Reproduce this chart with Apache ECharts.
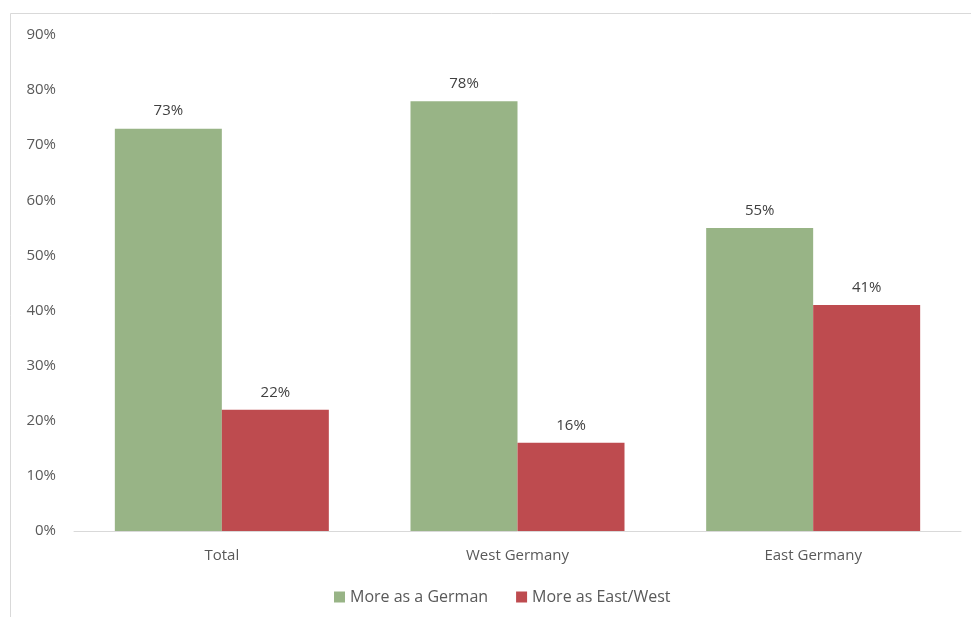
<!DOCTYPE html>
<html><head><meta charset="utf-8">
<script src="https://cdn.jsdelivr.net/npm/echarts@6/dist/echarts.min.js"></script>
<style>html,body{margin:0;padding:0;background:#fff}#c{width:971px;height:617px}</style>
</head><body><div id="c"></div>
<script>
const categories = ['Total', 'West Germany', 'East Germany'];
const seriesNames = ['More as a German', 'More as East/West'];
const germanValues = [73, 78, 55];
const eastWestValues = [22, 16, 41];

const chart = echarts.init(document.getElementById('c'), null, {renderer: 'canvas'});
const font = 'Open Sans, Liberation Sans, sans-serif';
chart.setOption({
  animation: false,
  backgroundColor: '#fff',
  graphic: [{
    type: 'rect', shape: {x: 10.5, y: 13.5, width: 980, height: 620},
    style: {fill: 'none', stroke: '#d9d9d9', lineWidth: 1}, silent: true
  }],
  grid: {left: 74, right: 10, top: 35, bottom: 86, containLabel: false},
  legend: {
    data: seriesNames, bottom: 7, left: 329, itemWidth: 11, itemHeight: 11, itemGap: 28,
    icon: 'rect',
    textStyle: {color: '#595959', fontSize: 16, fontFamily: font}
  },
  xAxis: {
    type: 'category', data: categories,
    axisLine: {lineStyle: {color: '#d9d9d9', width: 1}},
    axisTick: {show: false},
    axisLabel: {color: '#595959', fontSize: 15, fontFamily: font, margin: 17, letterSpacing: 0.5}
  },
  yAxis: {
    type: 'value', min: 0, max: 90, interval: 10,
    splitLine: {show: false},
    axisLine: {show: false}, axisTick: {show: false},
    axisLabel: {color: '#595959', fontSize: 15, fontFamily: font, margin: 18, letterSpacing: 0.5, formatter: '{value}%'}
  },
  series: [
    {name: seriesNames[0], type: 'bar', data: germanValues, barWidth: 107, barGap: '0%',
     itemStyle: {color: '#98B486'},
     label: {show: true, position: 'top', distance: 10, formatter: '{c}%', color: '#404040', fontSize: 15, fontFamily: font, letterSpacing: 0.5}},
    {name: seriesNames[1], type: 'bar', data: eastWestValues, barWidth: 107, barGap: '0%',
     itemStyle: {color: '#BE4B4F'},
     label: {show: true, position: 'top', distance: 10, formatter: '{c}%', color: '#404040', fontSize: 15, fontFamily: font, letterSpacing: 0.5}}
  ]
});
</script></body></html>
